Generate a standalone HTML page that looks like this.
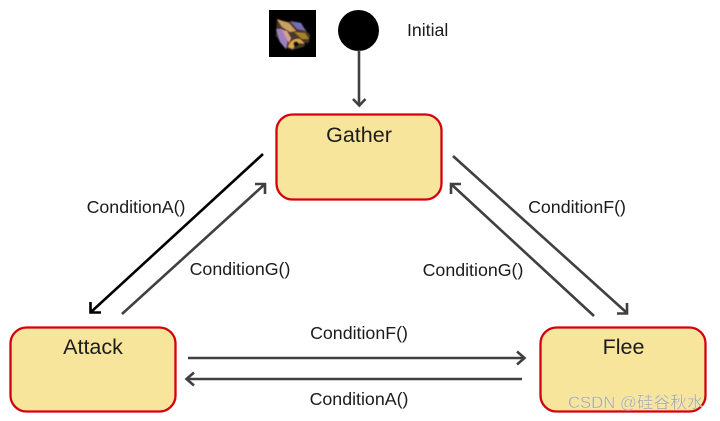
<!DOCTYPE html>
<html><head><meta charset="utf-8"><style>
html,body{margin:0;padding:0;background:#fff;width:720px;height:421px;overflow:hidden}
svg{display:block}
text{font-family:"Liberation Sans","Noto Sans CJK SC",sans-serif;fill:#1a1a1a}
</style></head><body>
<svg width="720" height="421" viewBox="0 0 720 421" xmlns="http://www.w3.org/2000/svg">
<defs>
<filter id="b" x="-20%" y="-20%" width="140%" height="140%"><feGaussianBlur stdDeviation="0.6"/></filter>
<filter id="s" x="-5%" y="-5%" width="110%" height="110%"><feGaussianBlur stdDeviation="0.3"/></filter>
</defs>
<rect width="720" height="421" fill="#fff"/>
<g filter="url(#s)">
<!-- icon -->
<rect x="269" y="10" width="47" height="47" fill="#050505"/>
<g filter="url(#b)">
<path d="M277 20 L290 22 L302 26 L310 35 L309 42 L303 47 L292 50 L284 47 L276 36 Z" fill="#4a3826"/>
<path d="M277 19 L289 23 L296 31 L290 32 L282 27 Z" fill="#c8a060"/>
<path d="M276 29 L282 29 L288 39 L286 49 L280 42 Z" fill="#9c80c0"/>
<path d="M282 30 L287 31 L291 38 L289 43 Z" fill="#d8a090"/>
<path d="M290 21 L301 23 L306 31 L297 29 Z" fill="#7f68b0"/>
<path d="M296 22 L300 23 L301 26 L297 25 Z" fill="#4f80d0"/>
<path d="M294 32 L305 33 L309 39 L302 39 Z" fill="#a8802f"/>
<path d="M288 47 Q291 38 300 39 L305 44 Q296 41 293 49 Z" fill="#d8a850"/>
<circle cx="296" cy="44" r="2.600" fill="#0a0a0a"/>
<circle cx="306" cy="44" r="1.800" fill="#0a0a0a"/>
</g>
<!-- initial -->
<circle cx="358.500" cy="30.500" r="20.500" fill="#000"/>
<text x="407" y="36" font-size="17.700">Initial</text>
<g fill="none" stroke="#404040" stroke-width="2.600">
<path d="M359 50V105"/>
<path d="M353 99L359.300 105.500L365.500 99"/>
<!-- right pair -->
<path d="M453 156L627 313"/>
<path d="M627 303L627 313.500L617 313.500"/>
<path d="M594 316L451 184"/>
<path d="M451 194L451 184L461 184"/>
<!-- left up -->
<path d="M122 314L265 184"/>
<path d="M255 184L265 184L265 194"/>
<!-- bottom -->
<path d="M188 358H524"/>
<path d="M517 351.500L524.500 358L517 364.500"/>
<path d="M522 379H187"/>
<path d="M194 372.500L186.500 379L194 385.500"/>
</g>
<g fill="none" stroke="#000" stroke-width="2.600">
<path d="M263 154L91 312"/>
<path d="M90.500 302L90.500 312.500L101 312.500"/>
</g>
<!-- nodes -->
<g fill="#f7e59b" stroke="#d4000f" stroke-width="2.300">
<rect x="276.500" y="114.500" width="165" height="85" rx="16"/>
<rect x="10.500" y="327.500" width="165" height="84" rx="16"/>
<rect x="540.500" y="327.500" width="165" height="84" rx="16"/>
</g>
<g font-size="21.500" text-anchor="middle">
<text x="359" y="142">Gather</text>
<text x="93" y="354">Attack</text>
<text x="623.500" y="354">Flee</text>
</g>
<g font-size="17.800" text-anchor="middle">
<text x="136" y="213">ConditionA()</text>
<text x="240" y="275">ConditionG()</text>
<text x="473" y="276">ConditionG()</text>
<text x="577" y="213">ConditionF()</text>
<text x="359" y="339">ConditionF()</text>
<text x="359" y="405">ConditionA()</text>
</g>
<text x="568" y="408" font-size="16.700" style="fill:#a8a8a0;stroke:#fff;stroke-width:.2px">CSDN @硅谷秋水</text>
</g>
</svg>
</body></html>
